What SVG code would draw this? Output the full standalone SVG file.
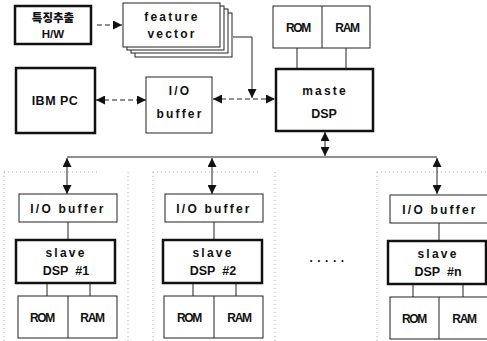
<svg xmlns="http://www.w3.org/2000/svg" width="487" height="341" viewBox="0 0 487 341">
<style>
.thin{fill:#fff;stroke:#222;stroke-width:1}
.thick{fill:#fff;stroke:#111;stroke-width:2.5}
.ln{fill:none;stroke:#222;stroke-width:1}
.dash{fill:none;stroke:#222;stroke-width:1;stroke-dasharray:5 3}
.dot{fill:none;stroke:#aaa;stroke-width:1;stroke-dasharray:1 3}
text{font-family:"Liberation Sans","Noto Sans CJK KR",sans-serif;font-weight:bold;fill:#111;text-anchor:middle}
.t{font-size:12px;letter-spacing:2.2px}
.m{font-size:12px;letter-spacing:-1.3px}
.k{font-family:"Noto Sans CJK KR",sans-serif;font-size:11.5px;font-weight:900}
</style>
<defs>
<marker id="ah" viewBox="0 0 10 10" refX="10" refY="5" markerWidth="9" markerHeight="9" markerUnits="userSpaceOnUse" orient="auto-start-reverse"><path d="M0,0L10,5L0,10z" fill="#111"/></marker>
</defs>
<rect width="487" height="341" fill="#fff"/>
<g id="frames">
<path class="dot" d="M4,172V341M128,172V341M4,172H100M153,172V341M275,172V341M153,172H260M377,172V341M377,172H487"/>
</g>
<g id="connectors">
<line class="dash" x1="97" y1="25" x2="122" y2="25" marker-end="url(#ah)"/>
<path class="ln" d="M233,37H252V98" marker-end="url(#ah)"/>
<line class="dash" x1="96" y1="100" x2="146" y2="100" marker-start="url(#ah)" marker-end="url(#ah)"/>
<line class="dash" x1="213" y1="99" x2="275" y2="99" marker-start="url(#ah)" marker-end="url(#ah)"/>
<line class="ln" x1="297" y1="48" x2="297" y2="68"/>
<line class="ln" x1="346" y1="48" x2="346" y2="68"/>
<line class="ln" x1="325" y1="132" x2="325" y2="156" marker-start="url(#ah)" marker-end="url(#ah)"/>
<line class="ln" x1="67" y1="157" x2="437" y2="157"/>
<line class="ln" x1="67" y1="158" x2="67" y2="194" marker-start="url(#ah)" marker-end="url(#ah)"/>
<line class="ln" x1="212" y1="158" x2="212" y2="194" marker-start="url(#ah)" marker-end="url(#ah)"/>
<line class="ln" x1="437" y1="158" x2="437" y2="194" marker-start="url(#ah)" marker-end="url(#ah)"/>
<line class="ln" x1="68" y1="222" x2="68" y2="240"/>
<line class="ln" x1="47" y1="283" x2="47" y2="296"/>
<line class="ln" x1="90" y1="283" x2="90" y2="296"/>
<line class="ln" x1="214" y1="222" x2="214" y2="240"/>
<line class="ln" x1="193" y1="283" x2="193" y2="296"/>
<line class="ln" x1="236" y1="283" x2="236" y2="296"/>
<line class="ln" x1="439" y1="222" x2="439" y2="240"/>
<line class="ln" x1="413" y1="284" x2="413" y2="297"/>
<line class="ln" x1="463" y1="284" x2="463" y2="297"/>
</g>
<g id="hw">
<rect class="thick" x="15" y="6" width="76" height="38"/>
<text class="k" x="53" y="22">특징추출</text>
<text x="53" y="38" font-size="11.5">H/W</text>
</g>
<g id="feature">
<rect class="thin" x="135" y="13" width="97" height="44"/>
<rect class="thin" x="131" y="9" width="97" height="44"/>
<rect class="thin" x="127" y="6" width="97" height="44"/>
<rect class="thin" x="123" y="3" width="97" height="44"/>
<text class="t" x="172" y="21">feature</text>
<text class="t" x="172" y="38">vector</text>
</g>
<g id="master-mem">
<rect class="thin" x="273" y="6" width="97" height="42"/>
<line class="ln" x1="322" y1="6" x2="322" y2="48"/>
<text class="m" x="298" y="32">ROM</text>
<text class="m" x="347" y="32">RAM</text>
</g>
<g id="master">
<rect class="thick" x="276" y="69" width="97" height="62"/>
<text class="t" x="325" y="95">maste</text>
<text x="324" y="118" font-size="12.5">DSP</text>
</g>
<g id="ibmpc">
<rect class="thick" x="16" y="68" width="79" height="65"/>
<text x="55" y="105" font-size="12.5" letter-spacing="0.5">IBM PC</text>
</g>
<g id="iobuf">
<rect class="thin" x="146" y="77" width="66" height="56"/>
<text class="t" x="180" y="95">I/O</text>
<text class="t" x="180" y="118">buffer</text>
</g>
<g id="slave1">
<rect class="thin" x="19" y="194" width="98" height="28"/>
<text class="t" x="68" y="213">I/O buffer</text>
<rect class="thick" x="16" y="240" width="99" height="43"/>
<text class="t" x="66" y="257">slave</text>
<text x="66" y="275" font-size="12.5">DSP&#160;&#160;#1</text>
<rect class="thin" x="18" y="296" width="99" height="42"/>
<line class="ln" x1="68" y1="296" x2="68" y2="338"/>
<text class="m" x="42" y="322">ROM</text>
<text class="m" x="92" y="322">RAM</text>
</g>
<g id="slave2">
<rect class="thin" x="165" y="194" width="98" height="28"/>
<text class="t" x="214" y="213">I/O buffer</text>
<rect class="thick" x="163" y="240" width="99" height="43"/>
<text class="t" x="213" y="257">slave</text>
<text x="213" y="275" font-size="12.5">DSP&#160;&#160;#2</text>
<rect class="thin" x="164" y="296" width="99" height="42"/>
<line class="ln" x1="214" y1="296" x2="214" y2="338"/>
<text class="m" x="189" y="322">ROM</text>
<text class="m" x="239" y="322">RAM</text>
</g>
<g id="dots">
<text x="329" y="262" font-size="12" letter-spacing="4.5">.....</text>
</g>
<g id="slaven">
<rect class="thin" x="390" y="195" width="100" height="28"/>
<text class="t" x="440" y="214">I/O buffer</text>
<rect class="thick" x="388" y="241" width="98" height="43"/>
<text class="t" x="438" y="258">slave</text>
<text x="438" y="276" font-size="12.5">DSP&#160;&#160;#n</text>
<rect class="thin" x="390" y="297" width="100" height="42"/>
<line class="ln" x1="439" y1="297" x2="439" y2="339"/>
<text class="m" x="414" y="323">ROM</text>
<text class="m" x="464" y="323">RAM</text>
</g>
</svg>
